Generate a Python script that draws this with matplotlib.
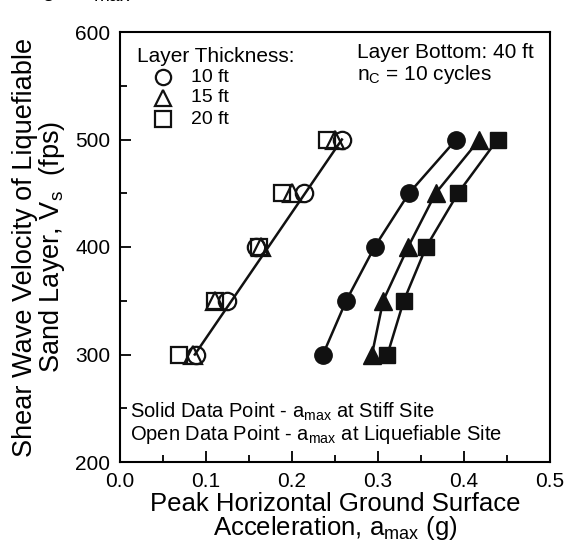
import matplotlib
matplotlib.use('Agg')
import matplotlib.pyplot as plt
from matplotlib.ticker import MultipleLocator, FormatStrFormatter

plt.rcParams['font.family'] = ['Liberation Sans', 'DejaVu Sans']
plt.rcParams['mathtext.fontset'] = 'custom'
plt.rcParams['mathtext.rm'] = 'Liberation Sans'
plt.rcParams['mathtext.it'] = 'Liberation Sans'

# shear wave velocity levels (fps)
vs = [300, 350, 400, 450, 500]

# open points - amax at liquefiable site (g)
open_10ft = [0.088, 0.124, 0.158, 0.214, 0.258]
open_15ft = [0.085, 0.111, 0.164, 0.200, 0.250]
open_20ft = [0.069, 0.110, 0.162, 0.188, 0.241]
# single trend line through the open points
open_line_x = [0.087, 0.258]
open_line_y = [300, 500]

# solid points - amax at stiff site (g)
solid_10ft = [0.236, 0.263, 0.296, 0.336, 0.391]
solid_15ft = [0.293, 0.306, 0.335, 0.367, 0.418]
solid_20ft = [0.311, 0.330, 0.356, 0.393, 0.439]

W, H = 568, 547
fig = plt.figure(figsize=(W / 100, H / 100), dpi=100)
ax = fig.add_axes([120 / W, 1 - 462 / H, 430 / W, 430 / H])

ms = 12.5
blk = '#111111'

ax.plot(open_line_x, open_line_y, color=blk, lw=1.8, zorder=2)
ax.plot(open_10ft, vs, 'o', ms=ms, mfc='none', mec=blk, mew=1.6, zorder=3)
ax.plot(open_15ft, vs, '^', ms=ms, mfc='none', mec=blk, mew=1.6, zorder=3)
ax.plot(open_20ft, vs, 's', ms=ms - 1, mfc='none', mec=blk, mew=1.6, zorder=3)

ax.plot(solid_10ft, vs, '-o', color=blk, lw=1.8, ms=ms, zorder=3)
ax.plot(solid_15ft, vs, '-^', color=blk, lw=1.8, ms=ms, zorder=3)
ax.plot(solid_20ft, vs, '-s', color=blk, lw=1.8, ms=ms - 1, zorder=3)

ax.set_xlim(0, 0.5)
ax.set_ylim(200, 600)
ax.xaxis.set_major_locator(MultipleLocator(0.1))
ax.xaxis.set_minor_locator(MultipleLocator(0.05))
ax.xaxis.set_major_formatter(FormatStrFormatter('%.1f'))
ax.yaxis.set_major_locator(MultipleLocator(100))
ax.yaxis.set_minor_locator(MultipleLocator(50))
ax.tick_params(which='both', direction='in', width=1.3, labelsize=15, pad=7)
ax.tick_params(which='major', length=8)
ax.tick_params(which='minor', length=5)
for sp in ax.spines.values():
    sp.set_linewidth(1.5)

ax.set_xlabel('Peak Horizontal Ground Surface\nAcceleration, a$_{\\rm max}$ (g)',
              fontsize=18.5, linespacing=0.9, labelpad=1)
ax.set_ylabel('Shear Wave Velocity of Liquefiable\nSand Layer, V$_{\\rm s}$  (fps)',
              fontsize=19.5, linespacing=0.95, labelpad=6)

# legend drawn by hand
fig.text(137 / W, 1 - 57 / H, 'Layer Thickness:', fontsize=15, va='center')
leg_rows = [('o', '10 ft', 77), ('^', '15 ft', 98), ('s', '20 ft', 119)]
for mk, lab, ypx in leg_rows:
    yf = 1 - ypx / H
    fig.lines.append(plt.Line2D([163 / W], [yf], marker=mk, ms=ms - 1.5, mfc='none',
                                mec=blk, mew=1.6, transform=fig.transFigure))
    fig.text(191 / W, yf, lab, fontsize=14, va='center')

fig.text(357 / W, 1 - 52 / H, 'Layer Bottom: 40 ft', fontsize=15, va='center')
fig.text(357 / W, 1 - 74 / H, 'n$_{\\rm C}$ = 10 cycles', fontsize=15, va='center')

fig.text(130 / W, 1 - 412 / H, 'Solid Data Point - a$_{\\rm max}$ at Stiff Site',
         fontsize=14.5, va='center')
fig.text(130 / W, 1 - 435 / H, 'Open Data Point - a$_{\\rm max}$ at Liquefiable Site',
         fontsize=14.5, va='center')

# title cut off at the top of the scan
fig.text(25 / W, 1 - 4 / H, 'V$_{\\rm s}$ - a$_{\\rm max}$', fontsize=19.5, va='bottom')

fig.savefig('out.png', dpi=100)
